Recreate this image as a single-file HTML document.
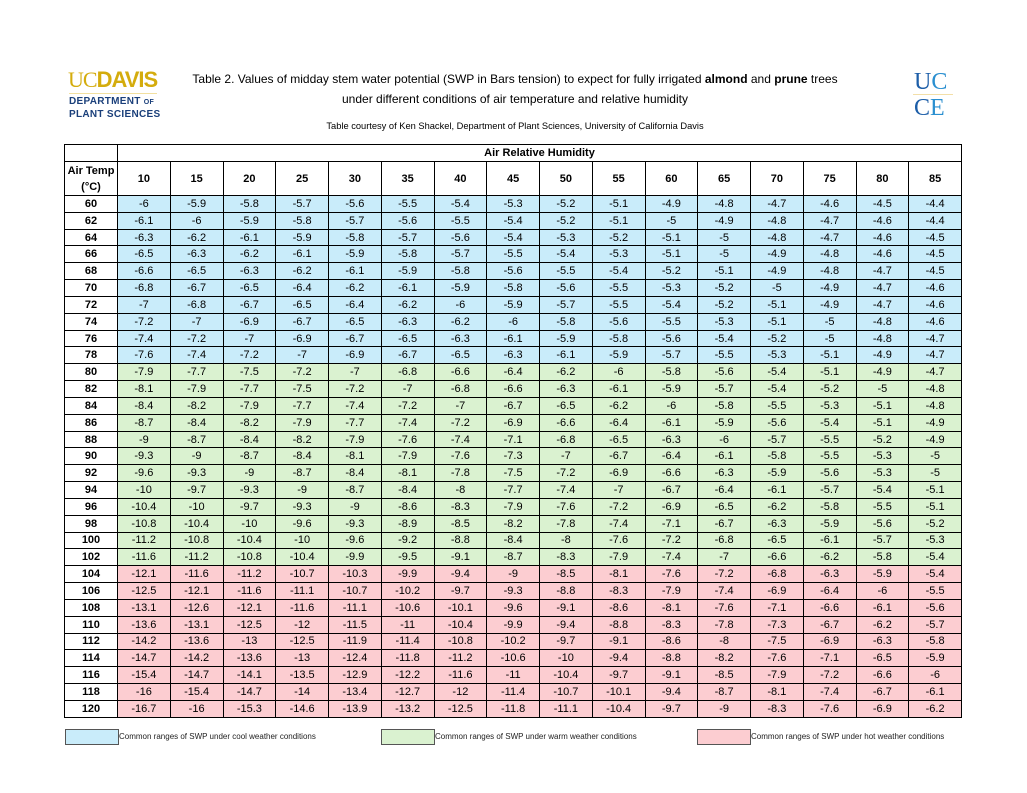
<!DOCTYPE html>
<html><head><meta charset="utf-8"><style>
body{margin:0;width:1027px;height:793px;background:#fff;position:relative;font-family:"Liberation Sans",sans-serif;color:#000;overflow:hidden}
.abs{position:absolute}
table{position:absolute;left:64px;top:144px;width:898px;border-collapse:collapse;table-layout:fixed;font-size:11px}
td{border:1px solid #000;text-align:center;padding:0;height:15.84px;line-height:14px;overflow:hidden;white-space:nowrap}
td:first-child{font-weight:bold;background:#fff}
tr.h1 td{height:16px;font-weight:bold}
tr.h2 td{height:33px;font-weight:bold;line-height:16px}
tr.b td{background:#c9ecfa}tr.g td{background:#daf2d0}tr.p td{background:#fccdd1}
tr.b td:first-child,tr.g td:first-child,tr.p td:first-child{background:#fff}
.leg{position:absolute;top:729px;height:14px;width:52px;border:1px solid #555}
.lt{position:absolute;top:732px;font-size:8px;color:#222}
</style></head><body>
<div class="abs" style="left:68px;top:68px;font-size:22px;font-weight:bold;color:#d4ac0d;letter-spacing:-1px;line-height:24px"><span style="font-family:'Liberation Serif',serif;font-weight:normal">UC</span>DAVIS</div>
<div class="abs" style="left:69px;top:93px;width:88px;border-top:1px solid #f2e0a0"></div>
<div class="abs" style="left:69px;top:96px;font-size:10px;font-weight:bold;color:#1a3f7a;line-height:12px;letter-spacing:0.3px">DEPARTMENT <span style="font-size:7px">OF</span><br>PLANT SCIENCES</div>
<div class="abs" style="left:190px;top:69px;width:650px;text-align:center;font-size:12px;line-height:20px">Table 2. Values of midday stem water potential (SWP in Bars tension) to expect for fully irrigated <b>almond</b> and <b>prune</b> trees<br>under different conditions of air temperature and relative humidity</div>
<div class="abs" style="left:190px;top:121px;width:650px;text-align:center;font-size:9.3px">Table courtesy of Ken Shackel, Department of Plant Sciences, University of California Davis</div>
<div class="abs" style="left:914px;top:69px;font-family:'Liberation Serif',serif;font-size:24px;line-height:26px;color:#1d5ea8">U<span style="color:#2a8fd0">C</span><br>C<span style="color:#2a8fd0">E</span></div>
<div class="abs" style="left:913px;top:94px;width:40px;border-top:1px solid #f3dfa8"></div>
<table>
<colgroup><col style="width:53px"><col span="16"></colgroup>
<tr class="h1"><td></td><td colspan="16">Air Relative Humidity</td></tr>
<tr class="h2"><td>Air Temp<br>(°C)</td><td>10</td><td>15</td><td>20</td><td>25</td><td>30</td><td>35</td><td>40</td><td>45</td><td>50</td><td>55</td><td>60</td><td>65</td><td>70</td><td>75</td><td>80</td><td>85</td></tr>
<tr class="b"><td>60</td><td>-6</td><td>-5.9</td><td>-5.8</td><td>-5.7</td><td>-5.6</td><td>-5.5</td><td>-5.4</td><td>-5.3</td><td>-5.2</td><td>-5.1</td><td>-4.9</td><td>-4.8</td><td>-4.7</td><td>-4.6</td><td>-4.5</td><td>-4.4</td></tr>
<tr class="b"><td>62</td><td>-6.1</td><td>-6</td><td>-5.9</td><td>-5.8</td><td>-5.7</td><td>-5.6</td><td>-5.5</td><td>-5.4</td><td>-5.2</td><td>-5.1</td><td>-5</td><td>-4.9</td><td>-4.8</td><td>-4.7</td><td>-4.6</td><td>-4.4</td></tr>
<tr class="b"><td>64</td><td>-6.3</td><td>-6.2</td><td>-6.1</td><td>-5.9</td><td>-5.8</td><td>-5.7</td><td>-5.6</td><td>-5.4</td><td>-5.3</td><td>-5.2</td><td>-5.1</td><td>-5</td><td>-4.8</td><td>-4.7</td><td>-4.6</td><td>-4.5</td></tr>
<tr class="b"><td>66</td><td>-6.5</td><td>-6.3</td><td>-6.2</td><td>-6.1</td><td>-5.9</td><td>-5.8</td><td>-5.7</td><td>-5.5</td><td>-5.4</td><td>-5.3</td><td>-5.1</td><td>-5</td><td>-4.9</td><td>-4.8</td><td>-4.6</td><td>-4.5</td></tr>
<tr class="b"><td>68</td><td>-6.6</td><td>-6.5</td><td>-6.3</td><td>-6.2</td><td>-6.1</td><td>-5.9</td><td>-5.8</td><td>-5.6</td><td>-5.5</td><td>-5.4</td><td>-5.2</td><td>-5.1</td><td>-4.9</td><td>-4.8</td><td>-4.7</td><td>-4.5</td></tr>
<tr class="b"><td>70</td><td>-6.8</td><td>-6.7</td><td>-6.5</td><td>-6.4</td><td>-6.2</td><td>-6.1</td><td>-5.9</td><td>-5.8</td><td>-5.6</td><td>-5.5</td><td>-5.3</td><td>-5.2</td><td>-5</td><td>-4.9</td><td>-4.7</td><td>-4.6</td></tr>
<tr class="b"><td>72</td><td>-7</td><td>-6.8</td><td>-6.7</td><td>-6.5</td><td>-6.4</td><td>-6.2</td><td>-6</td><td>-5.9</td><td>-5.7</td><td>-5.5</td><td>-5.4</td><td>-5.2</td><td>-5.1</td><td>-4.9</td><td>-4.7</td><td>-4.6</td></tr>
<tr class="b"><td>74</td><td>-7.2</td><td>-7</td><td>-6.9</td><td>-6.7</td><td>-6.5</td><td>-6.3</td><td>-6.2</td><td>-6</td><td>-5.8</td><td>-5.6</td><td>-5.5</td><td>-5.3</td><td>-5.1</td><td>-5</td><td>-4.8</td><td>-4.6</td></tr>
<tr class="b"><td>76</td><td>-7.4</td><td>-7.2</td><td>-7</td><td>-6.9</td><td>-6.7</td><td>-6.5</td><td>-6.3</td><td>-6.1</td><td>-5.9</td><td>-5.8</td><td>-5.6</td><td>-5.4</td><td>-5.2</td><td>-5</td><td>-4.8</td><td>-4.7</td></tr>
<tr class="b"><td>78</td><td>-7.6</td><td>-7.4</td><td>-7.2</td><td>-7</td><td>-6.9</td><td>-6.7</td><td>-6.5</td><td>-6.3</td><td>-6.1</td><td>-5.9</td><td>-5.7</td><td>-5.5</td><td>-5.3</td><td>-5.1</td><td>-4.9</td><td>-4.7</td></tr>
<tr class="g"><td>80</td><td>-7.9</td><td>-7.7</td><td>-7.5</td><td>-7.2</td><td>-7</td><td>-6.8</td><td>-6.6</td><td>-6.4</td><td>-6.2</td><td>-6</td><td>-5.8</td><td>-5.6</td><td>-5.4</td><td>-5.1</td><td>-4.9</td><td>-4.7</td></tr>
<tr class="g"><td>82</td><td>-8.1</td><td>-7.9</td><td>-7.7</td><td>-7.5</td><td>-7.2</td><td>-7</td><td>-6.8</td><td>-6.6</td><td>-6.3</td><td>-6.1</td><td>-5.9</td><td>-5.7</td><td>-5.4</td><td>-5.2</td><td>-5</td><td>-4.8</td></tr>
<tr class="g"><td>84</td><td>-8.4</td><td>-8.2</td><td>-7.9</td><td>-7.7</td><td>-7.4</td><td>-7.2</td><td>-7</td><td>-6.7</td><td>-6.5</td><td>-6.2</td><td>-6</td><td>-5.8</td><td>-5.5</td><td>-5.3</td><td>-5.1</td><td>-4.8</td></tr>
<tr class="g"><td>86</td><td>-8.7</td><td>-8.4</td><td>-8.2</td><td>-7.9</td><td>-7.7</td><td>-7.4</td><td>-7.2</td><td>-6.9</td><td>-6.6</td><td>-6.4</td><td>-6.1</td><td>-5.9</td><td>-5.6</td><td>-5.4</td><td>-5.1</td><td>-4.9</td></tr>
<tr class="g"><td>88</td><td>-9</td><td>-8.7</td><td>-8.4</td><td>-8.2</td><td>-7.9</td><td>-7.6</td><td>-7.4</td><td>-7.1</td><td>-6.8</td><td>-6.5</td><td>-6.3</td><td>-6</td><td>-5.7</td><td>-5.5</td><td>-5.2</td><td>-4.9</td></tr>
<tr class="g"><td>90</td><td>-9.3</td><td>-9</td><td>-8.7</td><td>-8.4</td><td>-8.1</td><td>-7.9</td><td>-7.6</td><td>-7.3</td><td>-7</td><td>-6.7</td><td>-6.4</td><td>-6.1</td><td>-5.8</td><td>-5.5</td><td>-5.3</td><td>-5</td></tr>
<tr class="g"><td>92</td><td>-9.6</td><td>-9.3</td><td>-9</td><td>-8.7</td><td>-8.4</td><td>-8.1</td><td>-7.8</td><td>-7.5</td><td>-7.2</td><td>-6.9</td><td>-6.6</td><td>-6.3</td><td>-5.9</td><td>-5.6</td><td>-5.3</td><td>-5</td></tr>
<tr class="g"><td>94</td><td>-10</td><td>-9.7</td><td>-9.3</td><td>-9</td><td>-8.7</td><td>-8.4</td><td>-8</td><td>-7.7</td><td>-7.4</td><td>-7</td><td>-6.7</td><td>-6.4</td><td>-6.1</td><td>-5.7</td><td>-5.4</td><td>-5.1</td></tr>
<tr class="g"><td>96</td><td>-10.4</td><td>-10</td><td>-9.7</td><td>-9.3</td><td>-9</td><td>-8.6</td><td>-8.3</td><td>-7.9</td><td>-7.6</td><td>-7.2</td><td>-6.9</td><td>-6.5</td><td>-6.2</td><td>-5.8</td><td>-5.5</td><td>-5.1</td></tr>
<tr class="g"><td>98</td><td>-10.8</td><td>-10.4</td><td>-10</td><td>-9.6</td><td>-9.3</td><td>-8.9</td><td>-8.5</td><td>-8.2</td><td>-7.8</td><td>-7.4</td><td>-7.1</td><td>-6.7</td><td>-6.3</td><td>-5.9</td><td>-5.6</td><td>-5.2</td></tr>
<tr class="g"><td>100</td><td>-11.2</td><td>-10.8</td><td>-10.4</td><td>-10</td><td>-9.6</td><td>-9.2</td><td>-8.8</td><td>-8.4</td><td>-8</td><td>-7.6</td><td>-7.2</td><td>-6.8</td><td>-6.5</td><td>-6.1</td><td>-5.7</td><td>-5.3</td></tr>
<tr class="g"><td>102</td><td>-11.6</td><td>-11.2</td><td>-10.8</td><td>-10.4</td><td>-9.9</td><td>-9.5</td><td>-9.1</td><td>-8.7</td><td>-8.3</td><td>-7.9</td><td>-7.4</td><td>-7</td><td>-6.6</td><td>-6.2</td><td>-5.8</td><td>-5.4</td></tr>
<tr class="p"><td>104</td><td>-12.1</td><td>-11.6</td><td>-11.2</td><td>-10.7</td><td>-10.3</td><td>-9.9</td><td>-9.4</td><td>-9</td><td>-8.5</td><td>-8.1</td><td>-7.6</td><td>-7.2</td><td>-6.8</td><td>-6.3</td><td>-5.9</td><td>-5.4</td></tr>
<tr class="p"><td>106</td><td>-12.5</td><td>-12.1</td><td>-11.6</td><td>-11.1</td><td>-10.7</td><td>-10.2</td><td>-9.7</td><td>-9.3</td><td>-8.8</td><td>-8.3</td><td>-7.9</td><td>-7.4</td><td>-6.9</td><td>-6.4</td><td>-6</td><td>-5.5</td></tr>
<tr class="p"><td>108</td><td>-13.1</td><td>-12.6</td><td>-12.1</td><td>-11.6</td><td>-11.1</td><td>-10.6</td><td>-10.1</td><td>-9.6</td><td>-9.1</td><td>-8.6</td><td>-8.1</td><td>-7.6</td><td>-7.1</td><td>-6.6</td><td>-6.1</td><td>-5.6</td></tr>
<tr class="p"><td>110</td><td>-13.6</td><td>-13.1</td><td>-12.5</td><td>-12</td><td>-11.5</td><td>-11</td><td>-10.4</td><td>-9.9</td><td>-9.4</td><td>-8.8</td><td>-8.3</td><td>-7.8</td><td>-7.3</td><td>-6.7</td><td>-6.2</td><td>-5.7</td></tr>
<tr class="p"><td>112</td><td>-14.2</td><td>-13.6</td><td>-13</td><td>-12.5</td><td>-11.9</td><td>-11.4</td><td>-10.8</td><td>-10.2</td><td>-9.7</td><td>-9.1</td><td>-8.6</td><td>-8</td><td>-7.5</td><td>-6.9</td><td>-6.3</td><td>-5.8</td></tr>
<tr class="p"><td>114</td><td>-14.7</td><td>-14.2</td><td>-13.6</td><td>-13</td><td>-12.4</td><td>-11.8</td><td>-11.2</td><td>-10.6</td><td>-10</td><td>-9.4</td><td>-8.8</td><td>-8.2</td><td>-7.6</td><td>-7.1</td><td>-6.5</td><td>-5.9</td></tr>
<tr class="p"><td>116</td><td>-15.4</td><td>-14.7</td><td>-14.1</td><td>-13.5</td><td>-12.9</td><td>-12.2</td><td>-11.6</td><td>-11</td><td>-10.4</td><td>-9.7</td><td>-9.1</td><td>-8.5</td><td>-7.9</td><td>-7.2</td><td>-6.6</td><td>-6</td></tr>
<tr class="p"><td>118</td><td>-16</td><td>-15.4</td><td>-14.7</td><td>-14</td><td>-13.4</td><td>-12.7</td><td>-12</td><td>-11.4</td><td>-10.7</td><td>-10.1</td><td>-9.4</td><td>-8.7</td><td>-8.1</td><td>-7.4</td><td>-6.7</td><td>-6.1</td></tr>
<tr class="p"><td>120</td><td>-16.7</td><td>-16</td><td>-15.3</td><td>-14.6</td><td>-13.9</td><td>-13.2</td><td>-12.5</td><td>-11.8</td><td>-11.1</td><td>-10.4</td><td>-9.7</td><td>-9</td><td>-8.3</td><td>-7.6</td><td>-6.9</td><td>-6.2</td></tr>
</table>
<div class="leg" style="left:65px;background:#c9ecfa"></div><div class="lt" style="left:119px">Common ranges of SWP under cool weather conditions</div>
<div class="leg" style="left:381px;background:#daf2d0"></div><div class="lt" style="left:435px">Common ranges of SWP under warm weather conditions</div>
<div class="leg" style="left:697px;background:#fccdd1"></div><div class="lt" style="left:751px">Common ranges of SWP under hot weather conditions</div>
</body></html>
